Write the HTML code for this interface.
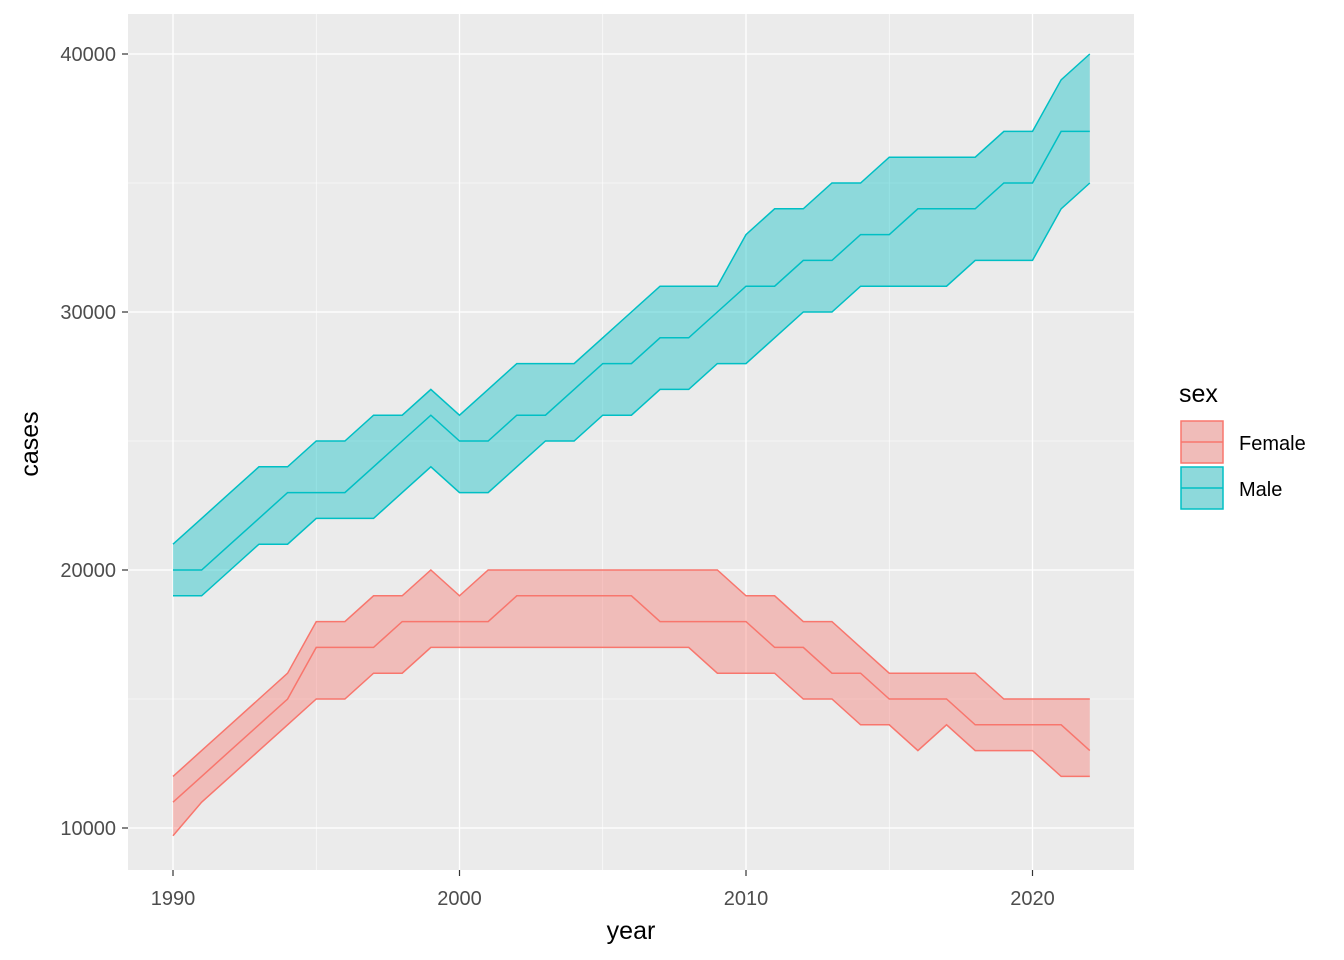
<!DOCTYPE html>
<html><head><meta charset="utf-8"><style>
body{margin:0;background:#fff;}
svg{display:block;font-family:"Liberation Sans",Arial,sans-serif;}
</style></head><body>
<svg id="chart" width="1344" height="960"></svg>
<script>
const years=[];for(let y=1990;y<=2022;y++)years.push(y);
const maleUpper=[21,22,23,24,24,25,25,26,26,27,26,27,28,28,28,29,30,31,31,31,33,34,34,35,35,36,36,36,36,37,37,39,40];
const maleMid=[20,20,21,22,23,23,23,24,25,26,25,25,26,26,27,28,28,29,29,30,31,31,32,32,33,33,34,34,34,35,35,37,37];
const maleLower=[19,19,20,21,21,22,22,22,23,24,23,23,24,25,25,26,26,27,27,28,28,29,30,30,31,31,31,31,32,32,32,34,35];
const femaleUpper=[12,13,14,15,16,18,18,19,19,20,19,20,20,20,20,20,20,20,20,20,19,19,18,18,17,16,16,16,16,15,15,15,15];
const femaleMid=[11,12,13,14,15,17,17,17,18,18,18,18,19,19,19,19,19,18,18,18,18,17,17,16,16,15,15,15,14,14,14,14,13];
const femaleLower=[9.7,11,12,13,14,15,15,16,16,17,17,17,17,17,17,17,17,17,17,16,16,16,15,15,14,14,13,14,13,13,13,12,12];
const xTicks=[1990,2000,2010,2020];
const yTicks=[10000,20000,30000,40000];

const svg=document.getElementById('chart');
const NS='http://www.w3.org/2000/svg';
const X=v=>173+(v-1990)*28.65;
const Y=v=>570-(v-20000)*0.0258;
function mk(tag,attrs,parent){const e=document.createElementNS(NS,tag);for(const k in attrs)e.setAttribute(k,attrs[k]);(parent||svg).appendChild(e);return e;}

const panel=mk('rect',{x:128,y:14,width:1006,height:856,fill:'#ebebeb'});


// minor grid
for(let i=0;i<xTicks.length-1;i++){const v=(xTicks[i]+xTicks[i+1])/2;const l=mk('line',{x1:X(v),x2:X(v),y1:14,y2:870,stroke:'#fff','stroke-width':0.6});}
for(let i=0;i<yTicks.length-1;i++){const v=(yTicks[i]+yTicks[i+1])/2;const l=mk('line',{x1:128,x2:1134,y1:Y(v),y2:Y(v),stroke:'#fff','stroke-width':0.6});}
xTicks.forEach(v=>{const l=mk('line',{x1:X(v),x2:X(v),y1:14,y2:870,stroke:'#fff','stroke-width':1.3});
 const t=mk('line',{x1:X(v),x2:X(v),y1:870,y2:876,stroke:'#333','stroke-width':1.2});
 const tx=mk('text',{x:X(v),y:905,'text-anchor':'middle','font-size':20,fill:'#4d4d4d'});tx.textContent=v;});
yTicks.forEach(v=>{const l=mk('line',{x1:128,x2:1134,y1:Y(v),y2:Y(v),stroke:'#fff','stroke-width':1.3});
 const t=mk('line',{x1:122,x2:128,y1:Y(v),y2:Y(v),stroke:'#333','stroke-width':1.2});
 const tx=mk('text',{x:116,y:Y(v)+7,'text-anchor':'end','font-size':20,fill:'#4d4d4d'});tx.textContent=v;});

function band(lo,mid,hi,fill,stroke,name){
 const up=years.map((y,i)=>X(y)+','+Y(hi[i]*1000));
 const dn=years.map((y,i)=>X(y)+','+Y(lo[i]*1000)).reverse();
 const p=mk('polygon',{points:up.concat(dn).join(' '),fill:fill,'fill-opacity':0.4,stroke:'none'});
 
 [[lo,'lower'],[mid,'middle'],[hi,'upper']].forEach(([arr,n])=>{
  const l=mk('polyline',{points:years.map((y,i)=>X(y)+','+Y(arr[i]*1000)).join(' '),fill:'none',stroke:stroke,'stroke-width':1.5});
  });
}
band(maleLower,maleMid,maleUpper,'#00bfc4','#00bfc4','male');
band(femaleLower,femaleMid,femaleUpper,'#f8766d','#f8766d','female');

let t=mk('text',{x:631,y:939,'text-anchor':'middle','font-size':25,fill:'#000'});t.textContent='year';
t=mk('text',{x:38,y:444,'text-anchor':'middle','font-size':25,fill:'#000',transform:'rotate(-90 38 444)'});t.textContent='cases';
t=mk('text',{x:1179,y:402,'font-size':25,fill:'#000'});t.textContent='sex';
[['Female','#f8766d',421],['Male','#00bfc4',467]].forEach(([lab,c,y])=>{
 const g=mk('g',{});
 mk('rect',{x:1181,y:y,width:42,height:42,fill:'#ebebeb'},g);
 mk('rect',{x:1181,y:y,width:42,height:42,fill:c,'fill-opacity':0.4,stroke:c,'stroke-width':1.5},g);
 mk('line',{x1:1181,x2:1223,y1:y+21,y2:y+21,stroke:c,'stroke-width':1.5},g);
 const tx=mk('text',{x:1239,y:y+29,'font-size':20,fill:'#000'},g);tx.textContent=lab;
});
</script>
</body></html>
